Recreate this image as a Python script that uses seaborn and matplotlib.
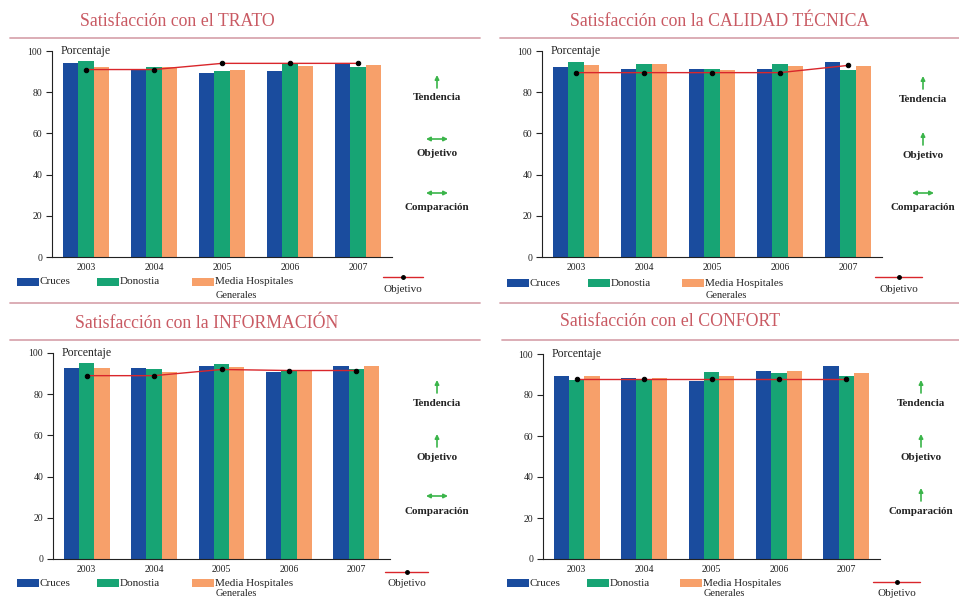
import numpy as np
import pandas as pd
import matplotlib
matplotlib.use("Agg")
import matplotlib.pyplot as plt
from matplotlib.patches import Rectangle
import seaborn as sns

# ---- data -------------------------------------------------------------
years = ["2003", "2004", "2005", "2006", "2007"]
series = ["Cruces", "Donostia", "Media Hospitales Generales"]

trato_cruces = [94, 91, 89.5, 90.5, 94]
trato_donostia = [95, 92, 90.5, 94, 92]
trato_media = [92, 92, 91, 92.5, 93]
trato_objetivo = [91, 91, 94, 94, 94]

calidad_cruces = [92, 91.5, 91.5, 91.5, 94.5]
calidad_donostia = [94.5, 93.5, 91.5, 93.5, 91]
calidad_media = [93, 93.5, 91, 92.5, 92.5]
calidad_objetivo = [89.5, 89.5, 89.5, 89.5, 93]

info_cruces = [92.5, 92.5, 93.5, 91, 93.5]
info_donostia = [95, 92, 94.5, 91.5, 92]
info_media = [92.5, 91, 93, 91.5, 93.5]
info_objetivo = [89, 89, 92, 91.5, 91.5]

confort_cruces = [89.5, 88.5, 87, 91.5, 94]
confort_donostia = [87.5, 88, 91, 90.5, 89.5]
confort_media = [89.5, 88.5, 89.5, 91.5, 90.5]
confort_objetivo = [88, 88, 88, 88, 88]

titles = ["Satisfacción con el TRATO", "Satisfacción con la CALIDAD TÉCNICA",
          "Satisfacción con la INFORMACIÓN", "Satisfacción con el CONFORT"]
indicators = ["Tendencia", "Objetivo", "Comparación"]
# arrow kind per indicator: "up" = improving, "flat" = stable
trato_flags = ["up", "flat", "flat"]
calidad_flags = ["up", "up", "flat"]
info_flags = ["up", "up", "flat"]
confort_flags = ["up", "up", "up"]

# ---- style ------------------------------------------------------------
sns.set_style("white")
plt.rcParams["font.family"] = ["Liberation Serif", "DejaVu Serif"]

BLUE, GREEN, ORANGE = "#1a4c9e", "#17a474", "#f7a06a"
RED, TITLE_C, RULE_C, ARROW_C = "#d9262b", "#c95a63", "#d9a7b0", "#3bb54a"
TXT = "#222222"
LEG_FS = 8
TICK_FS = 7
IND_FS = 8

W, H = 959, 599
fig = plt.figure(figsize=(W / 100, H / 100), dpi=100)


def px_axes(x0, y0, x1, y1):
    return fig.add_axes([x0 / W, 1 - y1 / H, (x1 - x0) / W, (y1 - y0) / H])


panels = [
    dict(vals=(trato_cruces, trato_donostia, trato_media), obj=trato_objetivo,
         flags=trato_flags, box=(52, 51, 392, 257), title_xy=(80, 22),
         rule=(10, 480, 38), ind_x=437, ind_y=(98, 154, 208),
         leg_y=282, gen_y=295, objl_y=277, objt_y=289, leg_x=(17, 97, 192),
         objl_x=(383, 423)),
    dict(vals=(calidad_cruces, calidad_donostia, calidad_media), obj=calidad_objetivo,
         flags=calidad_flags, box=(542, 51, 882, 257), title_xy=(570, 22),
         rule=(500, 959, 38), ind_x=923, ind_y=(99, 155, 208),
         leg_y=283, gen_y=296, objl_y=277, objt_y=289, leg_x=(507, 588, 682),
         objl_x=(875, 922)),
    dict(vals=(info_cruces, info_donostia, info_media), obj=info_objetivo,
         flags=info_flags, box=(53, 353, 390, 559), title_xy=(75, 323),
         rule=(10, 480, 340), ind_x=437, ind_y=(403, 457, 511),
         leg_y=583, gen_y=594, objl_y=572, objt_y=584, leg_x=(17, 97, 192),
         objl_x=(385, 428)),
    dict(vals=(confort_cruces, confort_donostia, confort_media), obj=confort_objetivo,
         flags=confort_flags, box=(543, 354, 880, 559), title_xy=(560, 321),
         rule=(502, 959, 340), ind_x=921, ind_y=(403, 457, 511),
         leg_y=583, gen_y=594, objl_y=582, objt_y=593, leg_x=(507, 587, 680),
         objl_x=(873, 920)),
]

# overlay in pixel units for titles, rules, legends and indicators
ov = fig.add_axes([0, 0, 1, 1], zorder=5)
ov.set_xlim(0, W)
ov.set_ylim(H, 0)
ov.axis("off")
ov.patch.set_alpha(0)

# separator between top and bottom rows
ov.plot([10, 480], [303, 303], color=RULE_C, lw=1.3)
ov.plot([500, 959], [303, 303], color=RULE_C, lw=1.3)

for p, title in zip(panels, titles):
    ax = px_axes(*p["box"])
    df = pd.DataFrame({
        "Año": years * 3,
        "Serie": [s for s in series for _ in years],
        "Porcentaje": [v for arr in p["vals"] for v in arr],
    })
    sns.barplot(data=df, x="Año", y="Porcentaje", hue="Serie",
                palette=[BLUE, GREEN, ORANGE], saturation=1, width=0.68,
                linewidth=0, legend=False, ax=ax)
    sns.lineplot(x=np.arange(len(years)), y=p["obj"], ax=ax, color=RED, lw=1,
                 marker="o", markersize=3.2, markerfacecolor="black",
                 markeredgecolor="black", zorder=4)
    ax.set_xlim(-0.5, 4.5)
    ax.set_ylim(0, 100)
    ax.set_yticks([0, 20, 40, 60, 80, 100])
    ax.set_xlabel("")
    ax.set_ylabel("")
    ax.set_xticks(np.arange(0.5, 5, 1), minor=True)
    ax.tick_params(axis="x", which="major", length=0, pad=4, labelsize=TICK_FS,
                   labelcolor=TXT)
    ax.tick_params(axis="x", which="minor", length=4, width=0.8, direction="out",
                   color=TXT)
    ax.tick_params(axis="y", length=4, width=0.8, direction="out", pad=3,
                   labelsize=TICK_FS, labelcolor=TXT, color=TXT, left=True)
    sns.despine(ax=ax)
    for s in ("left", "bottom"):
        ax.spines[s].set_color(TXT)
        ax.spines[s].set_linewidth(0.8)
    ax.patch.set_alpha(0)
    ax.text(0.025, 1.0, "Porcentaje", transform=ax.transAxes, fontsize=8.5,
            va="center", ha="left", color=TXT)

    # title and rule
    tx, ty = p["title_xy"]
    ov.text(tx, ty, title, fontsize=12.8, color=TITLE_C, va="center", ha="left")
    r0, r1, ry = p["rule"]
    ov.plot([r0, r1], [ry, ry], color=RULE_C, lw=1.3)

    # legend keys
    lx = p["leg_x"]
    ly = p["leg_y"]
    for x0, c, lab in zip(lx, (BLUE, GREEN, ORANGE),
                          ("Cruces", "Donostia", "Media Hospitales")):
        ov.add_patch(Rectangle((x0, ly - 4), 22, 8, color=c, lw=0))
        ov.text(x0 + 23, ly, lab, fontsize=LEG_FS, va="center", ha="left", color=TXT)
    ov.text(lx[2] + 24, p["gen_y"], "Generales", fontsize=LEG_FS - 0.5,
            va="center", ha="left", color=TXT)
    ox0, ox1 = p["objl_x"]
    ov.plot([ox0, ox1], [p["objl_y"]] * 2, color=RED, lw=1)
    ov.plot([(ox0 + ox1) / 2], [p["objl_y"]], "o", color="black", ms=2.5)
    ov.text((ox0 + ox1) / 2, p["objt_y"], "Objetivo", fontsize=LEG_FS, va="center",
            ha="center", color=TXT)

    # indicator arrows
    cx = p["ind_x"]
    for name, flag, yy in zip(indicators, p["flags"], p["ind_y"]):
        ov.text(cx, yy, name, fontsize=IND_FS, fontweight="bold", va="center",
                ha="center", color=TXT)
        if flag == "up":
            ov.annotate("", xy=(cx, yy - 23), xytext=(cx, yy - 10),
                        arrowprops=dict(arrowstyle="-|>", color=ARROW_C, lw=1.2,
                                        mutation_scale=6, shrinkA=0, shrinkB=0))
        else:
            ov.annotate("", xy=(cx + 11, yy - 15), xytext=(cx - 11, yy - 15),
                        arrowprops=dict(arrowstyle="<|-|>", color=ARROW_C, lw=1.2,
                                        mutation_scale=6, shrinkA=0, shrinkB=0))

fig.savefig("out.png", dpi=100)
